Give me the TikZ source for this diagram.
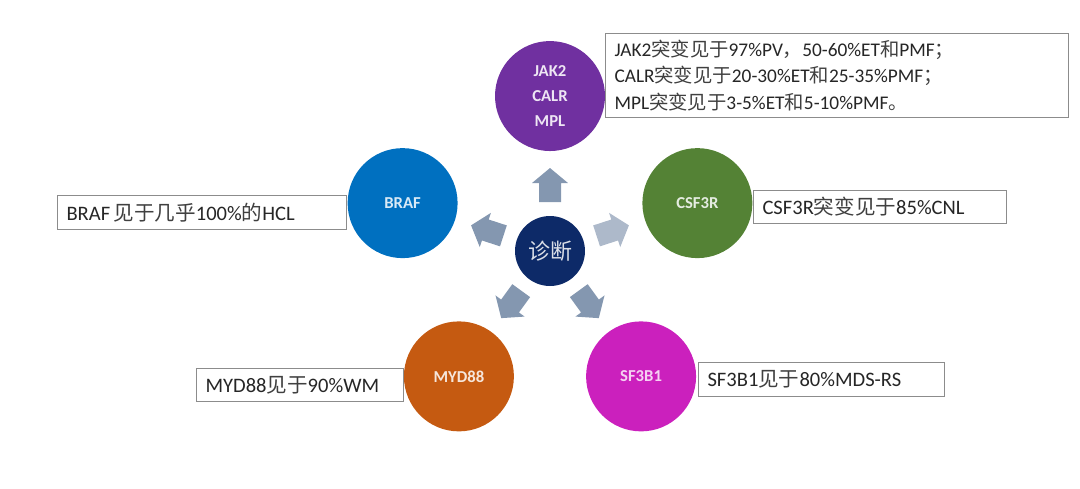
\documentclass[tikz,border=0pt]{standalone}
\usepackage{fontspec}
\setmainfont{Carlito}
\newfontfamily\cjk{Noto Sans CJK SC}
\usetikzlibrary{calc,positioning}
\definecolor{diagnavy}{HTML}{0D2A68}
\definecolor{jakpurple}{HTML}{7030A0}
\definecolor{brafblue}{HTML}{0070C0}
\definecolor{csfgreen}{HTML}{548235}
\definecolor{mydorange}{HTML}{C55A11}
\definecolor{sfmagenta}{HTML}{CB20BD}
\definecolor{cuedark}{HTML}{8497B0}
\definecolor{cuelight}{HTML}{ADB9CA}
\definecolor{boxgray}{HTML}{8C8C8C}
\newcommand{\zh}[1]{{\cjk\color{black!75}#1}}
\tikzset{
  bubble/.style={circle, minimum size=2.2cm, inner sep=0pt, align=center,
    font=\fontsize{9.5}{14}\selectfont\bfseries},
  infobox/.style={draw=boxgray, fill=white, line width=0.6pt, anchor=north west,
    align=left, inner xsep=0.18cm, inner ysep=0pt, text=black!85,
    font=\fontsize{11.7}{14}\selectfont}
}

\begin{document}
\begin{tikzpicture}[x=0.02cm,y=-0.02cm]
            \useasboundingbox (0,0) rectangle (1080,488);
            \node[circle, fill=diagnavy, minimum size=1.4cm, inner sep=0pt, text=white!85!diagnavy,
              font=\cjk\fontsize{12.5}{14}\selectfont] (diag) at (550,251) {诊断};
            \node[bubble, fill=jakpurple, text=jakpurple!12!white] (jak) at ($(diag)+(90:3.1cm)$) {JAK2\\CALR\\MPL};
            \node[bubble, fill=csfgreen, text=csfgreen!15!white] (csf) at ($(diag)+(18:3.1cm)$) {CSF3R};
            \node[bubble, fill=brafblue, text=brafblue!15!white] (braf) at ($(diag)+(162:3.1cm)$) {BRAF};
            \node[bubble, fill=sfmagenta, text=sfmagenta!20!white] (sf) at ($(diag)+(-54:3.1cm)$) {SF3B1};
            \node[bubble, fill=mydorange, text=mydorange!15!white] (myd) at ($(diag)+(-126:3.1cm)$) {MYD88};
            \foreach \ang/\tone in {90/cuedark,18/cuelight,162/cuedark,-54/cuedark,-126/cuedark}
              \fill[\tone, shift={(diag.center)}, rotate=\ang] (0.98cm,-0.22cm) -- ++(0.38cm,0cm) -- ++(0cm,-0.14cm)
                -- (1.66cm,0cm) -- (1.36cm,0.36cm) -- ++(0cm,-0.14cm) -- (0.98cm,0.22cm) -- cycle;
            \node[infobox, text width=8.9cm, minimum height=1.68cm, font=\fontsize{11}{15}\selectfont] (jaktext) at (605,33)
              {JAK2\zh{突变见于}97\%PV\zh{，}50-60\%ET\zh{和}PMF\zh{；}\\
               CALR\zh{突变见于}20-30\%ET\zh{和}25-35\%PMF\zh{；}\\
               MPL\zh{突变见于}3-5\%ET\zh{和}5-10\%PMF\zh{。}};
            \node[infobox, text width=5.42cm, minimum height=0.68cm] (braftext) at (57,195) {BRAF\,\zh{见于几乎}100\%\zh{的}HCL};
            \node[infobox, text width=4.7cm, minimum height=0.66cm] (csftext) at (753,190) {CSF3R\zh{突变见于}85\%CNL};
            \node[infobox, text width=3.78cm, minimum height=0.66cm] (mydtext) at (196,368) {MYD88\zh{见于}90\%WM};
            \node[infobox, text width=4.56cm, minimum height=0.68cm] (sftext) at (698,362) {SF3B1\zh{见于}80\%MDS-RS};
    \end{tikzpicture}
\end{document}
